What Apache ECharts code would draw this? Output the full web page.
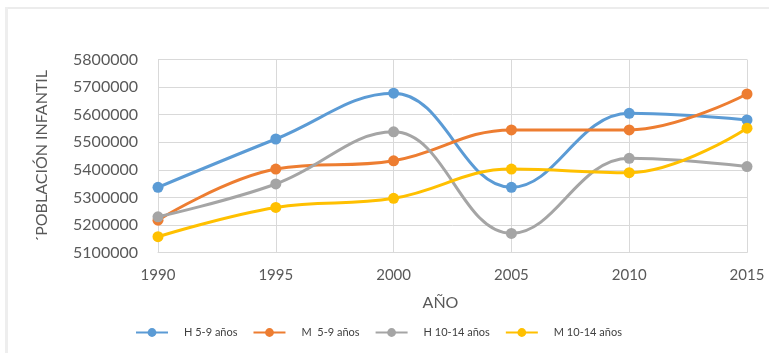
<!DOCTYPE html>
<html>
<head>
<meta charset="utf-8">
<script src="https://cdn.jsdelivr.net/npm/echarts@6/dist/echarts.min.js"></script>
<style>
  html, body { margin: 0; padding: 0; background: #fff; }
  #chart { width: 769px; height: 358px; }
</style>
</head>
<body>
<div id="chart"></div>
<script>
var years = ['1990', '1995', '2000', '2005', '2010', '2015'];
var h59 = [5337000, 5512000, 5678000, 5337000, 5605000, 5581000];
var m59 = [5218000, 5403000, 5433000, 5545000, 5545000, 5675000];
var h1014 = [5230000, 5349000, 5538000, 5170000, 5442000, 5412000];
var m1014 = [5158000, 5264000, 5297000, 5403000, 5390000, 5551000];
var seriesNames = ['H 5-9 años', 'M  5-9 años', 'H 10-14 años', 'M 10-14 años'];
var colors = ['#5B9BD5', '#ED7D31', '#A5A5A5', '#FFC000'];

function makeSeries(name, data, color) {
  return {
    name: name,
    type: 'line',
    data: data,
    smooth: 0.4,
    symbol: 'circle',
    symbolSize: 11,
    lineStyle: { width: 3, color: color },
    itemStyle: { color: color },
    emphasis: { disabled: true }
  };
}

var myChart = echarts.init(document.getElementById('chart'));
var option = {
  animation: false,
  backgroundColor: '#fff',
  textStyle: { fontFamily: 'Lato' },
  grid: { left: 158, right: 22, top: 59.5, bottom: 105.3 },
  legend: {
    top: 327,
    left: 135,
    padding: 0,
    itemWidth: 32,
    itemHeight: 11,
    itemGap: 15,
    textStyle: { color: '#404040', fontSize: 11, padding: [0, 0, 0, 11] },
    data: seriesNames
  },
  xAxis: {
    type: 'category',
    data: years,
    boundaryGap: false,
    name: 'AÑO',
    nameLocation: 'middle',
    nameGap: 42,
    nameTextStyle: { color: '#595959', fontSize: 16, padding: [0, 24, 0, 0] },
    axisLine: { lineStyle: { color: '#d9d9d9' } },
    axisTick: { show: false },
    axisLabel: { color: '#595959', fontSize: 15, margin: 15 },
    splitLine: { show: true, lineStyle: { color: '#d9d9d9' } }
  },
  yAxis: {
    type: 'value',
    min: 5100000,
    max: 5800000,
    interval: 100000,
    name: "´POBLACIÓN INFANTIL",
    nameLocation: 'middle',
    nameGap: 108,
    nameTextStyle: { color: '#595959', fontSize: 16 },
    axisLine: { show: false },
    axisTick: { show: false },
    axisLabel: {
      color: '#595959',
      fontSize: 16,
      margin: 20,
      formatter: function(v) { return String(v); }
    },
    splitLine: { lineStyle: { color: '#d9d9d9' } }
  },
  graphic: [
    { type: 'rect', left: 5, top: 7, shape: { width: 764, height: 2 }, style: { fill: '#ececec' } },
    { type: 'rect', left: 5, top: 7, shape: { width: 3, height: 346 }, style: { fill: '#eeeeee' } }
  ],
  series: [
    makeSeries(seriesNames[0], h59, colors[0]),
    makeSeries(seriesNames[1], m59, colors[1]),
    makeSeries(seriesNames[2], h1014, colors[2]),
    makeSeries(seriesNames[3], m1014, colors[3])
  ]
};
myChart.setOption(option);
</script>
</body>
</html>
